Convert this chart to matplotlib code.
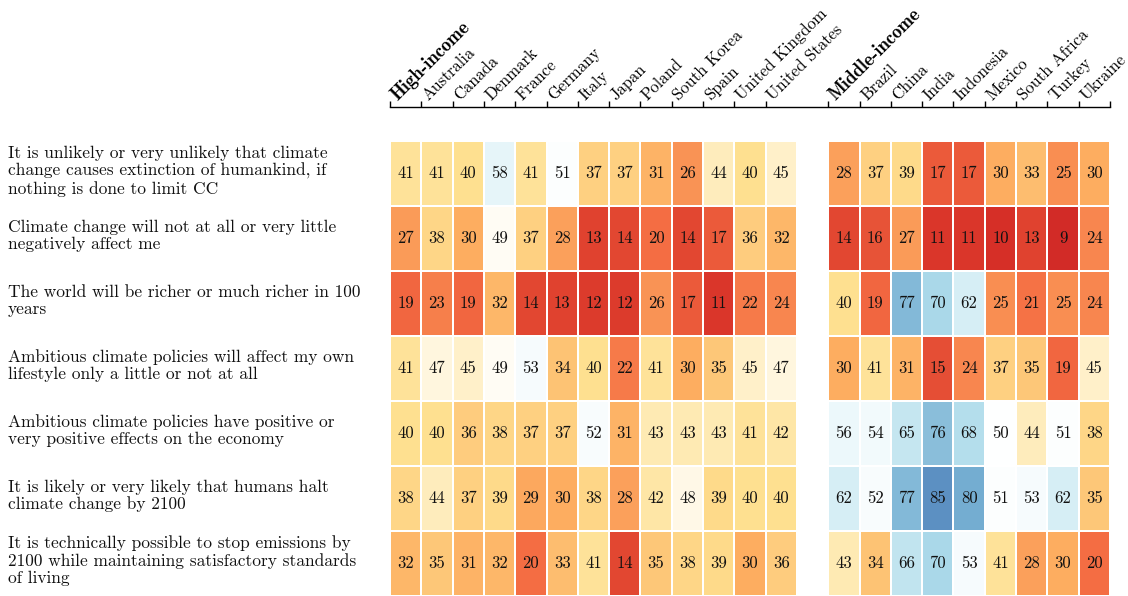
import numpy as np
import matplotlib
matplotlib.use("Agg")
import matplotlib.pyplot as plt
from matplotlib.colors import LinearSegmentedColormap
import matplotlib.transforms as mtransforms

plt.rcParams['font.family'] = ['cmr10', 'DejaVu Serif']
plt.rcParams['axes.formatter.use_mathtext'] = True

high_labels = ["High-income", "Australia", "Canada", "Denmark", "France", "Germany",
               "Italy", "Japan", "Poland", "South Korea", "Spain", "United Kingdom",
               "United States"]
middle_labels = ["Middle-income", "Brazil", "China", "India", "Indonesia", "Mexico",
                 "South Africa", "Turkey", "Ukraine"]

statements = [
    "It is unlikely or very unlikely that climate\nchange causes extinction of humankind, if\nnothing is done to limit CC",
    "Climate change will not at all or very little\nnegatively affect me",
    "The world will be richer or much richer in 100\nyears",
    "Ambitious climate policies will affect my own\nlifestyle only a little or not at all",
    "Ambitious climate policies have positive or\nvery positive effects on the economy",
    "It is likely or very likely that humans halt\nclimate change by 2100",
    "It is technically possible to stop emissions by\n2100 while maintaining satisfactory standards\nof living",
]

high_values = [
    [41, 41, 40, 58, 41, 51, 37, 37, 31, 26, 44, 40, 45],
    [27, 38, 30, 49, 37, 28, 13, 14, 20, 14, 17, 36, 32],
    [19, 23, 19, 32, 14, 13, 12, 12, 26, 17, 11, 22, 24],
    [41, 47, 45, 49, 53, 34, 40, 22, 41, 30, 35, 45, 47],
    [40, 40, 36, 38, 37, 37, 52, 31, 43, 43, 43, 41, 42],
    [38, 44, 37, 39, 29, 30, 38, 28, 42, 48, 39, 40, 40],
    [32, 35, 31, 32, 20, 33, 41, 14, 35, 38, 39, 30, 36],
]
middle_values = [
    [28, 37, 39, 17, 17, 30, 33, 25, 30],
    [14, 16, 27, 11, 11, 10, 13, 9, 24],
    [40, 19, 77, 70, 62, 25, 21, 25, 24],
    [30, 41, 31, 15, 24, 37, 35, 19, 45],
    [56, 54, 65, 76, 68, 50, 44, 51, 38],
    [62, 52, 77, 85, 80, 51, 53, 62, 35],
    [43, 34, 66, 70, 53, 41, 28, 30, 20],
]

H = np.array(high_values, dtype=float)
M = np.array(middle_values, dtype=float)
gap = np.full((H.shape[0], 1), np.nan)
data = np.hstack([H, gap, M])
nrows, ncols = data.shape

cmap = LinearSegmentedColormap.from_list(
    "rdylbu_white",
    ["#a50026", "#d73027", "#f46d43", "#fdae61", "#fee090", "#ffffff",
     "#e0f3f8", "#abd9e9", "#74add1", "#4575b4", "#313695"])
cmap.set_bad((1, 1, 1, 0))

fig = plt.figure(figsize=(11.28, 5.96), dpi=100)
ax = fig.add_axes([390 / 1128, 0.0, 720 / 1128, 1 - 141 / 596])

masked = np.ma.masked_invalid(data)
ax.pcolormesh(np.arange(ncols + 1), np.arange(nrows + 1), masked, cmap=cmap,
              vmin=0, vmax=100, edgecolors='white', linewidth=1.1)
ax.set_xlim(0, ncols)
ax.set_ylim(nrows, 0)

for i in range(nrows):
    for j in range(ncols):
        v = data[i, j]
        if not np.isnan(v):
            ax.text(j + 0.5, i + 0.5, f"{int(v)}", ha='center', va='center',
                    fontsize=12, color='#111111')

# spines / ticks
for s in ['left', 'right', 'bottom']:
    ax.spines[s].set_visible(False)
ax.spines['top'].set_position(('outward', 24.5))
ax.spines['top'].set_bounds(0, ncols)
ax.spines['top'].set_linewidth(1.0)
ax.set_yticks([])
nh = len(high_labels)
tick_pos = list(range(nh)) + list(range(nh + 1, ncols)) + [ncols]
tick_lab = high_labels + middle_labels + [""]
ax.xaxis.tick_top()
ax.set_xticks(tick_pos)
ax.set_xticklabels(tick_lab, rotation=45, ha='left', va='baseline',
                   rotation_mode='anchor', fontsize=12)
ax.tick_params(axis='x', direction='out', length=4, width=1.0, pad=2)
shift = mtransforms.ScaledTranslation(7.5 / 100, -2.5 / 100, fig.dpi_scale_trans)
for tick in ax.xaxis.get_major_ticks():
    lab = tick.label2
    lab.set_transform(lab.get_transform() + shift)
    if lab.get_text() in ("High-income", "Middle-income"):
        lab.set_family(['cmb10', 'DejaVu Serif'])
        lab.set_fontsize(13.5)

trans = mtransforms.blended_transform_factory(fig.transFigure, ax.transData)
for i, s in enumerate(statements):
    ax.text(8 / 1128, i + 0.46, s, transform=trans, ha='left', va='center',
            fontsize=12.5, linespacing=1.15, color='#111111')

fig.savefig("out.png", dpi=100)
